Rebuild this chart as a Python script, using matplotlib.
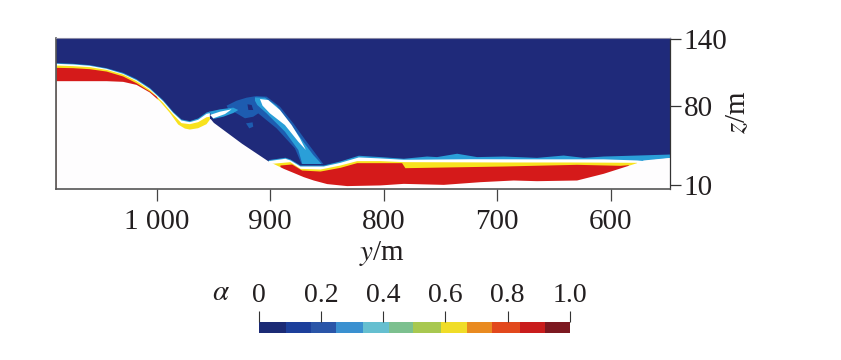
#!/usr/bin/env python3
"""Volume fraction snapshot of a landslide wave, y-z section."""
import matplotlib
matplotlib.use("Agg")
import matplotlib.pyplot as plt
from matplotlib.cm import ScalarMappable
from matplotlib.colors import BoundaryNorm, ListedColormap

plt.rcParams["font.family"] = ["Liberation Serif", "DejaVu Serif"]
plt.rcParams["mathtext.fontset"] = "stix"

# terrain surface
terrain_y = [1088.7, 1044.6, 1030, 1018.2, 1006.5, 997.7, 988.8, 981.5, 975.6, 971.2, 963.9, 956.5, 953, 950.1,
             925.2, 901.7, 888.4, 870.8, 862, 850.2, 832.6, 803.2, 782.7, 747.5, 715.2, 685.8, 665.3, 630,
             606.5, 577.1, 571.2, 547.7]
terrain_z = [102.8, 102.8, 102.2, 99.5, 92.7, 84.9, 74.5, 64.1, 60.5, 59.6, 60.8, 64.4, 69.2, 65.6,
             46.9, 31, 24.5, 17.1, 14.1, 10.9, 9.1, 9.7, 11.1, 10.2, 12.6, 14.1, 13.5, 14.1,
             20.1, 29.6, 32, 34.3]

# upper water sheet, each layer is the top of that colour
upper_y = [1088.7, 1074, 1059.3, 1044.6, 1030, 1018.2, 1006.5, 994.7, 985.9, 978.6, 971.2, 963.9, 956.5, 953.6]
upper_cyan_z = [118.9, 118.3, 117.1, 114.4, 110.2, 104.6, 96.8, 85.8, 75.4, 68.6, 67.1, 69.5, 74.8, 75.7]
upper_white_z = [118.3, 117.7, 116.5, 113.8, 109.3, 103.7, 95.9, 84.9, 74.5, 67.7, 66.2, 68.3, 73.6, 74.2]
upper_yellow_z = [116.8, 116.2, 115.3, 112.9, 108.7, 102.8, 95, 83.4, 73, 65.3, 64.4, 66.2, 70.6, 71]
upper_red_y = [1088.7, 1074, 1059.3, 1044.6, 1030, 1018.2, 1006.5, 1000.6, 999.7]
upper_red_z = [114.7, 114.4, 113.5, 111.4, 107, 101, 93.6, 89.1, 87.6]

# splash plume
plume_y = [938.4, 929.6, 920.8, 912, 903.1, 891.4, 879.6, 867.9, 859.1, 853.2, 872.3, 878.2, 894.3, 910.5,
           914.9, 922.2, 929.6, 936.9]
plume_z = [80.5, 84.9, 87.6, 89.1, 88.5, 79.6, 64.7, 48.3, 36.4, 28.4, 28.4, 42.4, 60.2, 73.6,
           70.6, 69.2, 73.6, 77.5]
blob_y = [921.3, 915.5, 914.9, 918.4]
blob_z = [64.7, 65.6, 61.7, 60.2]
halo_y = [913.4, 904.6, 894.3, 882.6, 870.8, 862, 854.7, 871.7, 875.2, 887, 903.1, 911.4, 913.4]
halo_z = [87.9, 87.6, 80.5, 64.7, 48.3, 36.4, 28.4, 28.4, 40.9, 57.3, 73.6, 81.1, 84.9]
core_y = [909, 901.7, 891.4, 881.1, 873.8, 868.5, 875.2, 887, 900.2, 906.7]
core_z = [86.4, 85.5, 76.6, 63.2, 51.3, 40.9, 48.3, 63.2, 73.6, 80.5]
jet_halo_y = [953.6, 944.2, 932.5, 928.1, 932.5, 941.3, 950.1]
jet_halo_z = [75.1, 77.2, 78.7, 76.6, 73.9, 70.6, 68.6]
jet_core_y = [953, 944.2, 934, 939.8, 950.1]
jet_core_z = [72.2, 75.1, 77.2, 73, 69.2]
spot_y = [920, 916.3, 914.9, 919.2]
spot_z = [81.7, 81.1, 76.6, 76.6]

# lower pool layers
pool_cyan_y = [901.7, 887, 882.6, 873.8, 853.2, 838.5, 822.3, 803.2, 782.7, 762.2, 753.4, 735.7, 718.1,
               694.6, 665.3, 641.8, 624.1, 606.5, 577.1, 547.7]
pool_cyan_z = [32.3, 34.4, 32.9, 27.5, 27.5, 31.1, 36.2, 35, 33.5, 35.5, 35, 38, 35,
               35.5, 34.3, 36.4, 34.3, 35.5, 36.4, 37.3]
pool_white_y = [901.7, 887, 882.6, 873.8, 853.2, 838.5, 822.3, 803.2, 782.7, 724, 665.3, 606.5, 577.1, 571, 547.7]
pool_white_z = [31.4, 33.5, 32, 26.6, 26.6, 29.9, 34.7, 33.8, 32.6, 33.1, 33, 33, 32, 31.4, 34]
pool_yellow_y = [898.7, 882.6, 873.8, 856.1, 838.5, 823.8, 803.2, 782.7, 694.6, 635.9, 577.1]
pool_yellow_z = [29, 30.5, 24.5, 23.9, 27.5, 31.4, 31.4, 30.5, 30.2, 30.2, 29.9]
pool_red_y = [891.4, 881.1, 872.3, 856.1, 838.5, 823.8, 803.2, 784.2, 781.3, 694.6, 630, 591.8, 584.5]
pool_red_z = [27.5, 28.4, 23, 22.1, 25.4, 29.6, 29.6, 29.6, 25.1, 26.6, 28.1, 27.2, 27.8]

y_ticks = [1000, 900, 800, 700, 600]
y_tick_labels = ["1 000", "900", "800", "700", "600"]
z_ticks = [140, 80, 10]

level_edges = [0, 0.088, 0.168, 0.248, 0.336, 0.418, 0.496, 0.587, 0.670, 0.751, 0.839, 0.919, 1]
level_colors = ["#1b2a75", "#1c3f9b", "#2a55a8", "#3a90d0", "#65bfd0", "#7cc08f",
                "#a8c850", "#f0dd28", "#e98a20", "#e2481c", "#c91c1c", "#7c1820"]
bar_ticks = [0, 0.2, 0.4, 0.6, 0.8, 1.0]
bar_tick_labels = ["0", "0.2", "0.4", "0.6", "0.8", "1.0"]

NAVY = "#1f2a7a"
PLUME = "#1d5cb0"
CYAN = "#2a9fd8"
YELLOW = "#f8e21e"
RED = "#d51a1a"
FLOOR = 0

fig = plt.figure(figsize=(8.41, 3.6), dpi=100)
ax = fig.add_axes([56 / 841, 1 - 189 / 360, 614 / 841, 151 / 360])
ax.set_facecolor(NAVY)
ax.set_xlim(1088.7, 547.7)
ax.set_ylim(6.07, 140.9)

ax.fill(plume_y, plume_z, color=PLUME, lw=0)
ax.fill(blob_y, blob_z, color=PLUME, lw=0)
ax.fill(spot_y, spot_z, color=NAVY, lw=0)
ax.fill(halo_y, halo_z, color=CYAN, lw=0)
ax.fill(core_y, core_z, color="white", lw=0)
ax.fill(jet_halo_y, jet_halo_z, color=CYAN, lw=0)
ax.fill(jet_core_y, jet_core_z, color="white", lw=0)

ax.fill_between(upper_y, upper_cyan_z, FLOOR, color=CYAN, lw=0)
ax.fill_between(upper_y, upper_white_z, FLOOR, color="white", lw=0)
ax.fill_between(upper_y, upper_yellow_z, FLOOR, color=YELLOW, lw=0)
ax.fill_between(upper_red_y, upper_red_z, FLOOR, color=RED, lw=0)

ax.fill_between(pool_cyan_y, pool_cyan_z, FLOOR, color=CYAN, lw=0)
ax.fill_between(pool_white_y, pool_white_z, FLOOR, color="white", lw=0)
ax.fill_between(pool_yellow_y, pool_yellow_z, FLOOR, color=YELLOW, lw=0)
ax.fill_between(pool_red_y, pool_red_z, FLOOR, color=RED, lw=0)
ax.fill_between(terrain_y, terrain_z, FLOOR, color="#fefdfe", lw=0)

ax.yaxis.tick_right()
ax.set_xticks(y_ticks, y_tick_labels)
ax.set_yticks(z_ticks)
ax.tick_params(axis="x", length=8.4, width=0.9, color="#444444", labelsize=21, pad=6, labelcolor="#231f20")
ax.tick_params(axis="y", length=8, width=0.9, color="#333333", labelsize=21, pad=2, labelcolor="#231f20")
ax.spines["left"].set(color="#555555", lw=1.2)
ax.spines["bottom"].set(color="#555555", lw=1.2)
ax.spines["top"].set(color="#8a8aa5", lw=0.8)
ax.spines["right"].set(color="#333333", lw=0.9)

fig.text(382 / 841, 1 - 253 / 360, "$y$/m", ha="center", va="center", fontsize=21, color="#231f20")
fig.text(738 / 841, 1 - 112 / 360, "$z$/m", ha="center", va="center", rotation=90, fontsize=21, color="#231f20")
fig.text(221 / 841, 1 - 293 / 360, r"$\alpha$", ha="center", va="center", fontsize=21, color="#231f20")

cax = fig.add_axes([258.7 / 841, 1 - 333 / 360, 311.3 / 841, 10.7 / 360])
sm = ScalarMappable(norm=BoundaryNorm(level_edges, len(level_colors)), cmap=ListedColormap(level_colors))
cbar = fig.colorbar(sm, cax=cax, orientation="horizontal", spacing="proportional")
cbar.set_ticks(bar_ticks, labels=bar_tick_labels)
cbar.minorticks_off()
cbar.outline.set_visible(False)
cax.xaxis.set_ticks_position("top")
cax.tick_params(axis="x", length=8, width=0.8, color="#333333", labelsize=20, pad=2.5, labelcolor="#231f20")

fig.savefig("out.png", dpi=100)
